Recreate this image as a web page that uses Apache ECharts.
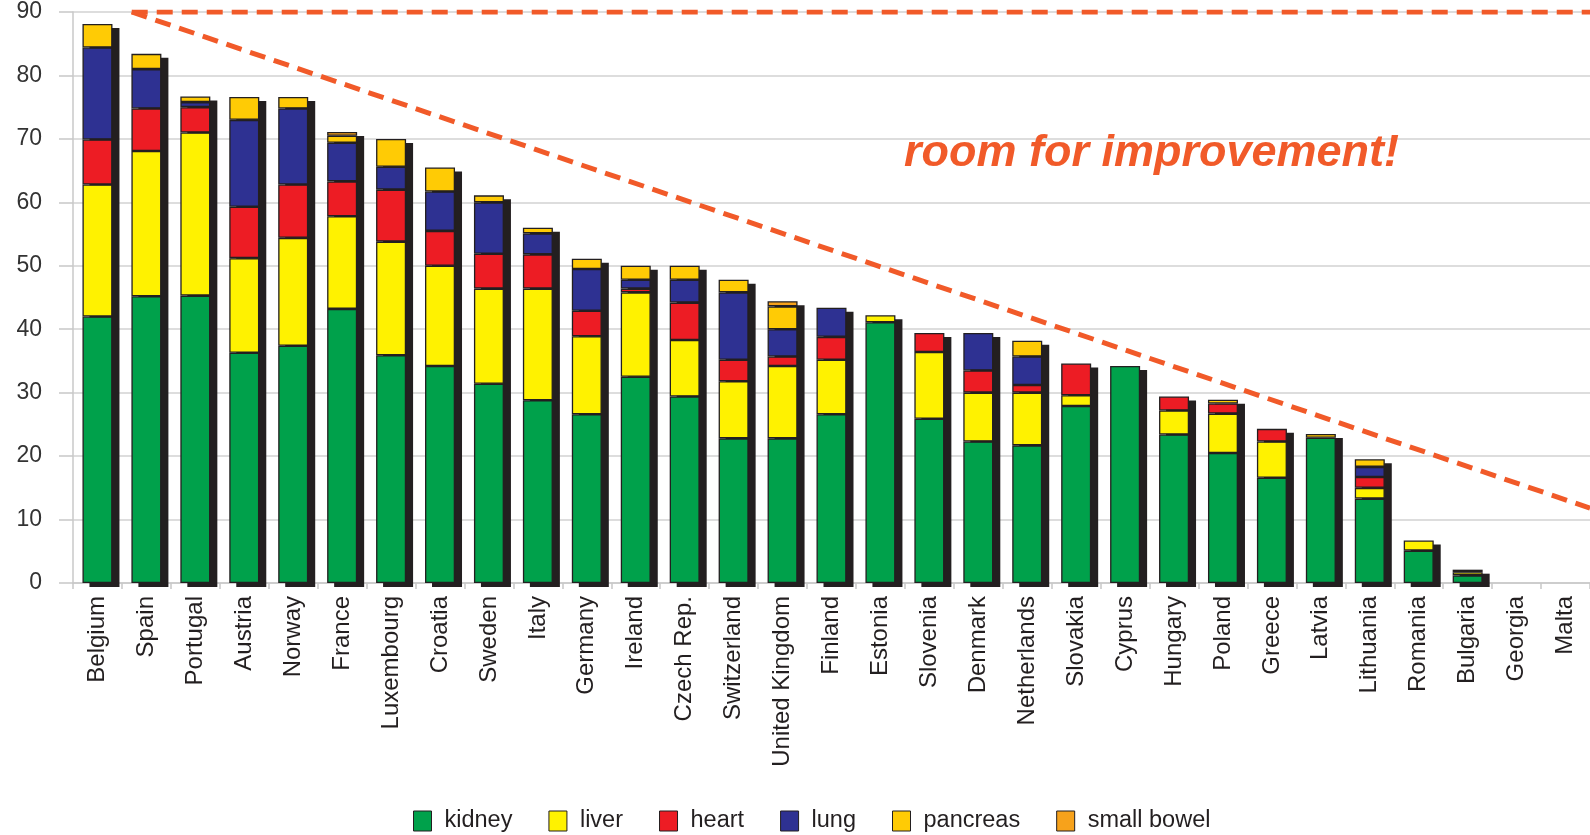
<!DOCTYPE html>
<html>
<head>
<meta charset="utf-8">
<script src="https://cdn.jsdelivr.net/npm/echarts@6/dist/echarts.min.js"></script>
<style>
html,body{margin:0;padding:0;background:#fff;}
#chart{width:1590px;height:835px;}
</style>
</head>
<body>
<div id="chart"></div>
<script>
const countries = ['Belgium','Spain','Portugal','Austria','Norway','France','Luxembourg','Croatia','Sweden','Italy','Germany','Ireland','Czech Rep.','Switzerland','United Kingdom','Finland','Estonia','Slovenia','Denmark','Netherlands','Slovakia','Cyprus','Hungary','Poland','Greece','Latvia','Lithuania','Romania','Bulgaria','Georgia','Malta'];

const kidney     = [42, 45.2, 45.3, 36.3, 37.4, 43.2, 35.9, 34.2, 31.4, 28.8, 26.6, 32.5, 29.4, 22.8, 22.8, 26.6, 41.1, 25.9, 22.3, 21.7, 27.9, 34.2, 23.4, 20.5, 16.6, 22.9, 13.3, 5.1, 1.2, 0, 0];
const liver      = [20.8, 22.9, 25.7, 14.9, 17, 14.6, 17.9, 15.8, 15, 17.6, 12.3, 13.3, 8.9, 9, 11.4, 8.6, 1.1, 10.5, 7.7, 8.3, 1.7, 0, 3.8, 6.2, 5.7, 0, 1.7, 1.6, 0.5, 0, 0];
const heart      = [7.1, 6.7, 4, 8.1, 8.4, 5.5, 8.2, 5.5, 5.5, 5.4, 4, 0.6, 5.9, 3.4, 1.5, 3.6, 0, 3, 3.5, 1.2, 5, 0, 2.2, 1.6, 2, 0, 1.7, 0, 0.4, 0, 0];
const lung       = [14.5, 6.2, 0.8, 13.7, 12, 6.1, 3.6, 6.2, 8.1, 3.3, 6.6, 1.4, 3.6, 10.6, 4.3, 4.6, 0, 0, 5.9, 4.5, 0, 0, 0, 0, 0, 0, 1.6, 0, 0, 0, 0];
const pancreas   = [3.7, 2.4, 0.9, 3.6, 1.8, 1.1, 4.4, 3.8, 1.1, 0.9, 1.6, 2.2, 2.2, 2, 3.6, 0, 0, 0, 0, 2.5, 0, 0, 0, 0.6, 0, 0.6, 1.2, 0, 0, 0, 0];
const smallBowel = [0, 0, 0, 0, 0, 0.6, 0, 0, 0, 0, 0, 0, 0, 0, 0.8, 0, 0, 0, 0, 0, 0, 0, 0, 0, 0, 0, 0, 0, 0, 0, 0];

const seriesNames = ['kidney','liver','heart','lung','pancreas','small bowel'];
const seriesValues = [kidney, liver, heart, lung, pancreas, smallBowel];
const seriesColors = ['#00A14B','#FFF200','#ED1C24','#2E3192','#FFCB05','#F7A21B'];

const yTicks = [0, 10, 20, 30, 40, 50, 60, 70, 80, 90];

// annotation: target ceiling and trend line (x in category units, y in values)
const ceilingLine = [[1.2, 90], [31, 90]];
const trendLine   = [[1.2, 90], [31, 11.8]];
const annotationText = 'room for improvement!';

const FONT = '"Liberation Sans", Arial, Helvetica, sans-serif';
const ORANGE = '#F15A29';
const BAR_W = 30;
const SHADOW_DX = 7;
const SHADOW_DY = 4;

// per-country totals (sum of the organ arrays) used for the drop shadow
const totals = countries.map((c, i) => [i, seriesValues.reduce((s, arr) => s + arr[i], 0)]);

const chart = echarts.init(document.getElementById('chart'));

const barSeries = seriesNames.map((name, i) => ({
  name: name,
  type: 'bar',
  stack: 'organs',
  xAxisIndex: 0,
  barWidth: BAR_W,
  z: 5,
  data: seriesValues[i].map(v => v === 0 ? '-' : v),
  itemStyle: {
    color: seriesColors[i],
    borderColor: '#231F20',
    borderWidth: 1.3
  },
  emphasis: { disabled: true }
}));

const shadowSeries = {
  name: 'shadow',
  type: 'custom',
  xAxisIndex: 0,
  z: 3,
  silent: true,
  data: totals,
  encode: { x: 0, y: 1 },
  renderItem: function (params, api) {
    const total = api.value(1);
    if (!total) return null;
    const top = api.coord([api.value(0), total]);
    const base = api.coord([api.value(0), 0]);
    return {
      type: 'rect',
      shape: { x: top[0] - BAR_W / 2 + SHADOW_DX, y: top[1] + SHADOW_DY, width: BAR_W, height: base[1] - top[1] },
      style: { fill: '#231F20' }
    };
  }
};

const lineStyleBase = { color: ORANGE, width: 5, type: [16, 9] };

const option = {
  animation: false,
  backgroundColor: '#ffffff',
  textStyle: { fontFamily: FONT },
  grid: { left: 73, right: 0, top: 12, bottom: 252, containLabel: false },
  legend: {
    data: seriesNames,
    bottom: -3,
    left: 408,
    itemWidth: 18,
    itemHeight: 20,
    itemGap: 36,
    icon: 'rect',
    textStyle: { fontSize: 23.5, color: '#231F20', fontFamily: FONT, padding: [0, 0, 0, 8] },
    itemStyle: { borderColor: '#231F20', borderWidth: 1 }
  },
  xAxis: [
    {
      type: 'category',
      data: countries,
      axisLine: { show: true, lineStyle: { color: '#c8c8c8', width: 1.5 } },
      axisTick: { show: true, length: 6, lineStyle: { color: '#c8c8c8', width: 1.5 } },
      axisLabel: { rotate: 90, margin: 13, fontSize: 24, color: '#231F20', fontFamily: FONT, interval: 0 },
      splitLine: { show: false }
    },
    {
      type: 'value',
      min: 0,
      max: 31,
      show: false
    }
  ],
  yAxis: {
    type: 'value',
    min: 0,
    max: 90,
    interval: 10,
    axisLine: { show: true, lineStyle: { color: '#c8c8c8', width: 1.5 } },
    axisTick: { show: true, length: 14, lineStyle: { color: '#c8c8c8', width: 1.5 } },
    axisLabel: {
      margin: 31, fontSize: 23, color: '#333', fontFamily: FONT,
      formatter: v => (yTicks.indexOf(v) >= 0 ? String(v) : '')
    },
    splitLine: { show: true, lineStyle: { color: '#d2d2d2', width: 1.5 } }
  },
  graphic: [{
    type: 'text',
    left: 904,
    top: 131,
    z: 100,
    style: {
      text: annotationText,
      fill: ORANGE,
      font: 'italic bold 45px ' + FONT
    }
  }],
  series: [shadowSeries].concat(barSeries).concat([
    {
      name: 'ceiling',
      type: 'line',
      xAxisIndex: 1,
      data: ceilingLine,
      symbol: 'none',
      z: 20,
      lineStyle: lineStyleBase,
      silent: true
    },
    {
      name: 'trend',
      type: 'line',
      xAxisIndex: 1,
      data: trendLine,
      symbol: 'none',
      z: 20,
      lineStyle: lineStyleBase,
      silent: true
    }
  ])
};

chart.setOption(option);
</script>
</body>
</html>
